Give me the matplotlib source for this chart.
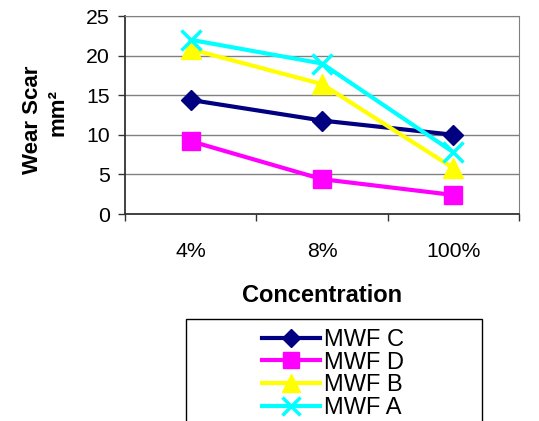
import matplotlib
matplotlib.use("Agg")
import matplotlib.pyplot as plt
from matplotlib.patches import Rectangle

categories = ["4%", "8%", "100%"]
mwf_c = [14.4, 11.8, 10.0]
mwf_d = [9.2, 4.4, 2.4]
mwf_b = [20.8, 16.4, 5.8]
mwf_a = [22.0, 19.0, 7.8]
series_names = ["MWF C", "MWF D", "MWF B", "MWF A"]

plt.rcParams['font.family'] = ['Liberation Sans', 'DejaVu Sans']

W, H = 539, 421
fig = plt.figure(figsize=(W/100, H/100), dpi=100)
ax = fig.add_axes([125/W, 1-214/H, (519-125)/W, (214-16)/H])

styles = [
    dict(color='#000080', marker='D', markersize=10),
    dict(color='#FF00FF', marker='s', markersize=13),
    dict(color='#FFFF00', marker='^', markersize=14),
    dict(color='#00FFFF', marker='x', markersize=14, markeredgewidth=2.5),
]
x = list(range(len(categories)))
handles = []
for name, vals, st in zip(series_names, [mwf_c, mwf_d, mwf_b, mwf_a], styles):
    h, = ax.plot(x, vals, lw=3, label=name, zorder=3, **st)
    handles.append(h)

ax.set_xlim(-0.5, 2.5)
ax.set_ylim(0, 25)
ax.set_yticks([0, 5, 10, 15, 20, 25])
ax.yaxis.grid(True, color='#808080', lw=1)
ax.set_axisbelow(True)
ax.set_xticks(x)
ax.set_xticklabels(categories)
ax.set_xticks([-0.5, 0.5, 1.5, 2.5], minor=True)
ax.tick_params(axis='x', which='major', length=0, pad=20, labelsize=15.3)
ax.tick_params(axis='x', which='minor', length=5, width=1, color='#333333')
ax.tick_params(axis='y', length=5, width=1, color='#333333', labelsize=15.3, pad=6)
for s in ['top', 'right']:
    ax.spines[s].set_color('#808080')
for s in ['left', 'bottom']:
    ax.spines[s].set_color('#333333')
    ax.spines[s].set_linewidth(1.3)

ax.set_xlabel("Concentration", fontsize=17, fontweight='bold', labelpad=17)
fig.text(33/W, 1-120/H, "Wear Scar", rotation=90, fontsize=16, fontweight='bold',
         ha='center', va='center')
fig.text(58/W, 1-112/H, "mm²", rotation=90, fontsize=16, fontweight='bold',
         ha='center', va='center')

fig.patches.append(Rectangle((186/W, -0.1), (482-186)/W, 0.1 + 1-319/H,
                             transform=fig.transFigure, fill=False,
                             edgecolor='black', lw=1))
leg = fig.legend(handles=handles, loc='upper left', bbox_to_anchor=(262/W, 1-329/H),
                 frameon=False, fontsize=17, handlelength=2.45, handletextpad=0.16,
                 labelspacing=0.03, borderaxespad=0, borderpad=0, markerscale=0.9)

fig.savefig("out.png", dpi=100)
